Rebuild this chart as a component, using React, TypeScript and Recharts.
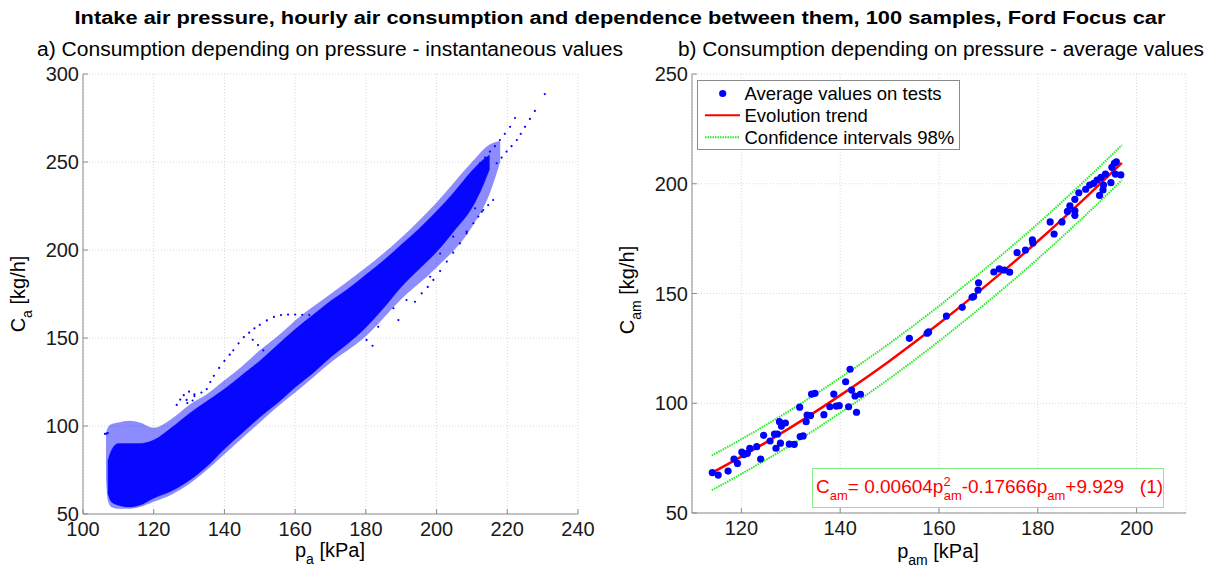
import React from 'react';
import { ComposedChart, Area, Line, Scatter, XAxis, YAxis, CartesianGrid } from 'recharts';

// a) instantaneous values: dense cloud read off as envelopes (pressure kPa -> consumption kg/h)
const instP = [107, 108, 110, 113, 116, 120, 125, 130, 135, 140, 145, 150, 155, 160, 165, 170, 175, 180, 185, 190, 195, 200, 205, 210, 213, 215];
const instCoreLow = [62, 57, 55, 54, 55, 59, 63, 69, 77, 87, 96, 105, 113, 122, 130, 139, 147, 156, 167, 179, 189, 199, 211, 224, 236, 246];
const instCoreHigh = [80, 86, 90, 90, 90, 92, 99, 107, 114, 121, 129, 137, 146, 155, 163, 171, 178, 186, 194, 203, 212, 222, 233, 245, 251, 254];

const instSpreadP = [106.5, 107, 108, 110, 113, 116, 120, 125, 130, 135, 140, 145, 150, 155, 160, 170, 180, 190, 200, 210, 215, 218];
const instSpreadLow = [70, 58, 54, 53, 53, 54, 57, 61, 67, 75, 84, 93, 102, 111, 119, 136, 151, 172, 190, 213, 232, 250];
const instSpreadHigh = [96, 99, 101, 102, 103, 102, 99, 104, 112, 118, 126, 134, 143, 151, 160, 175, 190, 207, 227, 250, 260, 262];

// isolated traces and outliers around the cloud
const instTraces: [number, number][] = [
  [106.2, 95.5], [106.6, 95.7], [107.0, 96.0],
  [126.5, 112], [127.5, 115], [128.5, 117.5], [130, 119.5], [131.5, 118], [131, 114.5], [129.5, 113],
  [129.3, 114.8], [131.5, 117], [133.5, 119], [135, 121], [136, 125], [137, 128.5], [138.5, 133], [140, 137],
  [141.5, 140.5], [142.5, 143], [144, 147], [145.5, 150.5], [147, 153], [148.5, 155.5], [150, 157.5],
  [152, 160], [154, 162], [156, 163], [158, 163.3], [160, 163.3], [162, 163.2], [164, 163], [166, 162.5],
  [148, 149], [149.5, 146], [151, 143],
  [180.2, 148.9], [181.9, 145.6], [183.5, 156.4], [187.8, 166.9], [189.2, 160.2], [191.5, 171.6], [193.9, 170.6],
  [195.8, 175.4], [197.5, 179], [199.1, 183], [201, 188], [202.9, 193.4], [204.7, 198.5], [206.6, 203.8],
  [208.5, 209.5], [210.4, 215.2], [211.8, 219], [213.2, 222.7], [214.6, 225.5], [216, 228.4],
  [198.2, 184.8], [201, 198], [204.7, 207.6], [208.5, 210.4], [210.9, 223.7], [212.8, 221.8],
  [212.3, 249.3], [213.7, 252.5], [215.1, 255.9], [216.5, 259], [217.9, 262.5], [219.3, 266], [220.8, 270], [222.2, 275],
  [217, 249.3], [218.4, 252.5], [219.8, 255.9], [221.2, 259], [222.7, 262.5], [223.8, 266], [225, 270], [226.4, 274.5], [227.8, 279],
  [230.6, 288.6],
];

const instXTicks = [100, 120, 140, 160, 180, 200, 220, 240];
const instYTicks = [50, 100, 150, 200, 250, 300];

// b) average values on tests
const avgPoints: [number, number][] = [
  [114.1, 68.4], [115.3, 67.3], [117.3, 69.1], [118.5, 74.6], [119.2, 72.6], [120.1, 77.7], [120.5, 76.6],
  [121.2, 77.2], [121.7, 79.5], [123.1, 80.2], [123.9, 74.6], [124.5, 85.4], [125.8, 82.8], [126.7, 86],
  [127, 79.5], [127.3, 86], [127.7, 91.6], [127.9, 81.8], [128.1, 89.6], [128.9, 91], [129.7, 81.4],
  [130.7, 81.3], [131.8, 98.2], [131.9, 84.8], [132.5, 85.1], [133.1, 91.6], [133.3, 94.6], [134, 94.4],
  [134.2, 104.2], [134.9, 104.5], [136.7, 94.8], [137.9, 98.4], [138.7, 104.2], [139.2, 98.7], [139.8, 98.9],
  [141.1, 109.8], [141.7, 98.4], [142, 115.5], [142.3, 106], [143, 103.3], [143.3, 95.9], [144.1, 104.1],
  [154, 129.6], [157.6, 131.9], [157.9, 132.5], [161.5, 139.7], [164.7, 143.7], [166.7, 148.3], [167, 148.6],
  [167.9, 151.6], [168, 154.9], [171.1, 159.8], [172.2, 161.2], [173.2, 160.7], [174.3, 159.7], [175.8, 168.6],
  [177.5, 169.8], [178.9, 174.4], [179, 173], [182.5, 182.6], [183.3, 177.1], [184.9, 182.6], [186, 187.4],
  [186.5, 189.9], [187.5, 187.7], [187.5, 185.6], [187.5, 192.9], [188.3, 195.9], [189.7, 197.5], [190.5, 199.4],
  [191.3, 200.2], [192, 201.7], [192.5, 194.7], [192.8, 202.9], [193.2, 197.2], [193.3, 199.4], [193.7, 204.4],
  [194.8, 200.5], [195, 207.5], [195.5, 209.3], [195.7, 204.4], [195.9, 210], [196.8, 204],
];

const trendP = [114, 120, 130, 140, 150, 160, 170, 180, 190, 197];
const trendC = [68.3, 75.7, 89.0, 103.6, 119.3, 136.3, 154.5, 173.8, 194.4, 209.5];
const upperC = [76.2, 83.6, 97.0, 111.6, 127.3, 144.3, 162.5, 181.8, 202.4, 217.5];
const lowerC = [60.4, 67.8, 81.0, 95.6, 111.3, 128.3, 146.5, 165.8, 186.4, 201.6];

const avgXTicks = [120, 140, 160, 180, 200];
const avgYTicks = [50, 100, 150, 200, 250];

const FONT = '"Liberation Sans", Arial, Helvetica, sans-serif';
const AXIS = '#8c8c8c';
const BLUE = '#0000ff';
const RED = '#ff0000';
const GREEN = '#22ee22';

const tickStyle = { fill: '#1a1a1a', fontSize: 20, fontFamily: FONT };
const blank = () => '';

const coreData = instP.map((p, i) => ({ p, range: [instCoreLow[i], instCoreHigh[i]] }));
const spreadData = instSpreadP.map((p, i) => ({ p, range: [instSpreadLow[i], instSpreadHigh[i]] }));
const traceData = instTraces.map(([p, c]) => ({ p, c }));
const avgData = avgPoints.map(([p, c]) => ({ p, c }));
const trendData = trendP.map((p, i) => ({ p, c: trendC[i] }));
const upperData = trendP.map((p, i) => ({ p, c: upperC[i] }));
const lowerData = trendP.map((p, i) => ({ p, c: lowerC[i] }));

const smallDot = (props: any) => <circle cx={props.cx} cy={props.cy} r={1.1} fill={BLUE} />;
const bigDot = (props: any) => <circle cx={props.cx} cy={props.cy} r={3.6} fill={BLUE} />;

const axes = (xDomain: number[], xTicks: number[], yDomain: number[], yTicks: number[]) => [
  <XAxis key="xb" xAxisId="b" dataKey="p" type="number" domain={xDomain} ticks={xTicks} allowDataOverflow interval={0}
    height={30} tickSize={-5} tickMargin={13} axisLine={{ stroke: AXIS }} tickLine={{ stroke: AXIS }} tick={tickStyle} />,
  <XAxis key="xt" xAxisId="t" orientation="top" dataKey="p" type="number" domain={xDomain} ticks={xTicks} allowDataOverflow interval={0}
    height={0} tickSize={-5} tickFormatter={blank} axisLine={{ stroke: AXIS }} tickLine={{ stroke: AXIS }} />,
  <YAxis key="yl" yAxisId="l" dataKey="c" type="number" domain={yDomain} ticks={yTicks} allowDataOverflow interval={0}
    width={60} tickSize={-5} tickMargin={9} axisLine={{ stroke: AXIS }} tickLine={{ stroke: AXIS }} tick={tickStyle} />,
  <YAxis key="yr" yAxisId="r" orientation="right" dataKey="c" type="number" domain={yDomain} ticks={yTicks} allowDataOverflow interval={0}
    width={0} tickSize={-5} tickFormatter={blank} axisLine={{ stroke: AXIS }} tickLine={{ stroke: AXIS }} />,
];

const InstantChart = () => (
  <ComposedChart width={600} height={570} margin={{ top: 74, right: 22, bottom: 26, left: 23 }}>
    <CartesianGrid xAxisId="b" yAxisId="l" stroke="#d8d8d8" strokeDasharray="1 2" />
    {axes([100, 240], instXTicks, [50, 300], instYTicks)}
    <Area xAxisId="b" yAxisId="l" data={spreadData} dataKey="range" type="monotone"
      fill={BLUE} fillOpacity={0.45} stroke="none" isAnimationActive={false} />
    <Area xAxisId="b" yAxisId="l" data={coreData} dataKey="range" type="monotone"
      fill={BLUE} fillOpacity={0.95} stroke={BLUE} strokeOpacity={0.4} strokeWidth={1} isAnimationActive={false} />
    <Scatter xAxisId="t" yAxisId="r" data={traceData} shape={smallDot} isAnimationActive={false} />
  </ComposedChart>
);

const AverageChart = () => (
  <ComposedChart width={606} height={570} margin={{ top: 74, right: 30, bottom: 27, left: 22 }}>
    <CartesianGrid xAxisId="b" yAxisId="l" stroke="#d8d8d8" strokeDasharray="1 2" />
    {axes([110, 210], avgXTicks, [50, 250], avgYTicks)}
    <Scatter xAxisId="b" yAxisId="l" data={avgData} shape={bigDot} isAnimationActive={false} />
    <Line xAxisId="t" yAxisId="r" data={trendData} dataKey="c" type="monotone" stroke={RED} strokeWidth={2.5}
      dot={false} isAnimationActive={false} />
    <Line xAxisId="t" yAxisId="r" data={upperData} dataKey="c" type="monotone" stroke={GREEN} strokeWidth={2}
      strokeDasharray="1.5 1" dot={false} isAnimationActive={false} />
    <Line xAxisId="t" yAxisId="r" data={lowerData} dataKey="c" type="monotone" stroke={GREEN} strokeWidth={2}
      strokeDasharray="1.5 1" dot={false} isAnimationActive={false} />
  </ComposedChart>
);

const Labels = () => (
  <svg width={1216} height={570} style={{ position: 'absolute', left: 0, top: 0, pointerEvents: 'none' }}
    fontFamily={FONT}>
    <text x={620} y={24} textAnchor="middle" fontSize={18} fontWeight="bold" fill="#000"
      textLength={1091} lengthAdjust="spacingAndGlyphs">
      Intake air pressure, hourly air consumption and dependence between them, 100 samples, Ford Focus car
    </text>
    <text x={330} y={56} textAnchor="middle" fontSize={20} fill="#000" textLength={586} lengthAdjust="spacingAndGlyphs">
      a) Consumption depending on pressure - instantaneous values
    </text>
    <text x={941} y={56} textAnchor="middle" fontSize={20} fill="#000" textLength={526} lengthAdjust="spacingAndGlyphs">
      b) Consumption depending on pressure - average values
    </text>

    {/* axis titles */}
    <text transform="rotate(-90)" x={-294} y={25} textAnchor="middle" fontSize={20} fill="#000">
      <tspan>C</tspan><tspan fontSize={14} dy={7}>a</tspan><tspan dy={-7}> [kg/h]</tspan>
    </text>
    <text x={330} y={557} textAnchor="middle" fontSize={20} fill="#000">
      <tspan>p</tspan><tspan fontSize={14} dy={7}>a</tspan><tspan dy={-7}> [kPa]</tspan>
    </text>
    <text transform="rotate(-90)" x={-290} y={634} textAnchor="middle" fontSize={20} fill="#000">
      <tspan>C</tspan><tspan fontSize={14} dy={7}>am</tspan><tspan dy={-7}> [kg/h]</tspan>
    </text>
    <text x={938} y={558} textAnchor="middle" fontSize={20} fill="#000">
      <tspan>p</tspan><tspan fontSize={14} dy={7}>am</tspan><tspan dy={-7}> [kPa]</tspan>
    </text>

    {/* legend of b) */}
    <rect x={697.5} y={80.5} width={262} height={69} fill="#fff" stroke="#8a8a8a" strokeWidth={1} />
    <circle cx={722.7} cy={93.5} r={3.6} fill={BLUE} />
    <text x={744.5} y={100} fontSize={18.5} fill="#000">Average values on tests</text>
    <line x1={705} x2={740} y1={115.3} y2={115.3} stroke={RED} strokeWidth={2} />
    <text x={744.5} y={122} fontSize={18.5} fill="#000">Evolution trend</text>
    <line x1={705} x2={740} y1={137.3} y2={137.3} stroke={GREEN} strokeWidth={2} strokeDasharray="1.5 1" />
    <text x={744.5} y={144} fontSize={18.5} fill="#000">Confidence intervals 98%</text>

    {/* fitted equation */}
    <rect x={812.5} y={468.5} width={351} height={39} fill="#fff" stroke="#88ee88" strokeWidth={1} />
    <text x={816} y={493} fontSize={19} fill={RED} style={{ whiteSpace: 'pre' }}>
      <tspan>C</tspan>
      <tspan fontSize={13} dy={7}>am</tspan>
      <tspan dy={-7}>= 0.00604p</tspan>
      <tspan fontSize={13} dy={-7}>2</tspan>
      <tspan fontSize={13} dx={-7} dy={14}>am</tspan>
      <tspan dy={-7}>-0.17666p</tspan>
      <tspan fontSize={13} dy={7}>am</tspan>
      <tspan dy={-7}>{'+9.929   (1)'}</tspan>
    </text>
  </svg>
);

const App = () => (
  <div style={{ position: 'absolute', left: 0, top: 0, width: 1216, height: 570, background: '#fff', overflow: 'hidden' }}>
    <div style={{ position: 'absolute', left: 0, top: 0 }}>
      <InstantChart />
    </div>
    <div style={{ position: 'absolute', left: 610, top: 0 }}>
      <AverageChart />
    </div>
    <Labels />
  </div>
);

export default App;
